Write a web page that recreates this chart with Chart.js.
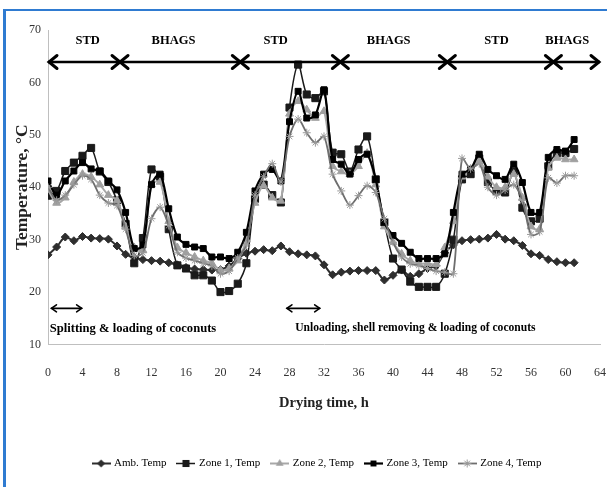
<!DOCTYPE html>
<html><head><meta charset="utf-8">
<script src="https://cdn.jsdelivr.net/npm/chart.js@4.4.1/dist/chart.umd.min.js"></script>
<style>
html,body{margin:0;padding:0;background:#fff;}
#wrap{position:relative;width:607px;height:487px;overflow:hidden;background:#fff;}
#bt{position:absolute;left:3px;top:9px;width:604px;height:2px;background:#2f7bd1;}
#bl{position:absolute;left:3px;top:9px;width:3px;height:478px;background:#2f7bd1;}
canvas{position:absolute;left:0;top:0;}
</style></head><body>
<div id="wrap"><div id="bt"></div><div id="bl"></div><canvas id="c" width="607" height="487"></canvas></div>
<script>
// ---- data ----
const hours = [0,1,2,3,4,5,6,7,8,9,10,11,12,13,14,15,16,17,18,19,20,21,22,23,24,25,26,27,28,29,30,31,32,33,34,35,36,37,38,39,40,41,42,43,44,45,46,47,48,49,50,51,52,53,54,55,56,57,58,59,60,61];
const ambTemp = [27.1,28.6,30.5,29.8,30.6,30.3,30.2,30.1,28.8,27.2,26.6,26.2,26.0,25.9,25.6,25.2,24.7,24.4,24.3,24.2,24.3,25.0,26.4,27.4,27.8,28.1,27.9,28.8,27.7,27.3,27.1,26.9,25.2,23.3,23.8,24.0,24.1,24.1,24.1,22.3,23.2,24.2,23.0,23.5,24.5,25.0,27.5,29.0,29.8,30.0,30.1,30.3,31.0,30.1,29.8,28.9,27.3,27.0,26.2,25.8,25.6,25.6];
const zone1Temp = [38.4,39.3,43.1,44.7,46.0,47.5,43.0,41.0,37.5,33.0,25.5,30.3,43.4,42.0,32.0,25.1,24.5,23.2,23.2,22.2,20.0,20.2,21.6,25.5,37.8,40.5,38.5,37.1,55.2,63.4,57.7,57.0,58.3,46.6,46.3,43.0,47.2,49.7,41.5,33.3,26.4,24.3,22.0,21.0,21.0,21.0,23.5,30.0,41.5,42.5,45.5,41.0,39.3,39.0,43.0,36.1,33.5,34.0,44.0,46.5,46.5,47.3];
const zone2Temp = [39.5,37.0,38.0,41.0,42.5,42.0,40.5,38.5,37.5,32.5,28.5,28.0,40.5,41.0,33.5,28.5,27.5,26.7,26.0,25.5,24.2,24.5,26.0,30.0,37.0,40.3,38.0,37.4,54.0,56.4,54.8,53.2,54.5,44.0,43.0,42.5,44.0,46.5,40.5,32.5,29.5,27.3,26.0,25.4,25.5,25.3,28.5,33.5,42.0,43.5,45.0,42.0,40.0,40.0,42.5,38.0,32.5,32.0,43.7,45.6,45.3,45.3];
const zone3Temp = [41.2,38.5,41.2,43.1,44.7,43.5,43.1,41.2,39.5,35.2,28.3,29.0,40.5,42.5,35.9,30.5,29.1,28.6,28.3,26.7,26.7,26.4,27.6,31.4,39.3,42.5,43.4,41.2,52.5,58.3,53.2,53.8,58.6,45.3,44.4,42.5,45.3,46.3,41.5,33.3,30.8,29.3,27.6,26.4,26.4,26.4,27.3,35.2,42.5,43.4,46.3,43.4,42.2,41.5,44.4,40.9,35.2,35.2,45.7,47.2,46.9,49.1];
const zone4Temp = [40.0,37.5,38.5,40.5,42.2,41.5,38.5,37.0,36.5,32.0,27.0,27.5,34.0,36.2,32.7,27.6,26.5,26.0,25.5,25.0,23.5,24.0,26.5,29.0,38.5,42.0,44.5,41.0,49.7,53.0,50.4,48.5,49.7,42.5,39.3,36.6,38.4,40.3,39.0,34.0,29.5,26.7,25.4,25.1,24.5,24.0,23.8,23.5,45.5,43.5,44.5,40.0,38.5,39.5,40.5,37.5,31.0,31.5,41.8,40.8,42.2,42.2];
const seriesNames = ['Amb. Temp','Zone 1, Temp','Zone 2, Temp','Zone 3, Temp','Zone 4, Temp'];
const xTickLabels = [0,4,8,12,16,20,24,28,32,36,40,44,48,52,56,60,64];
const yTickLabels = [10,20,30,40,50,60,70];
const phaseBounds = [8.35,22.3,33.9,46.3,58.6];
const phaseNames = ['STD','BHAGS','STD','BHAGS','STD','BHAGS'];
const operationNotes = ['Splitting & loading of coconuts','Unloading, shell removing & loading of coconuts'];

// ---- annotation layout (data units) ----
const annot = {
  arrowY: 63.9, labelY: 68.0, phaseLabelX: [4.6,14.55,26.4,39.5,52.0,60.2],
  startX: 0, endX: 64,
  noteArrows: [[0.4,3.9],[27.7,31.5]], noteArrowY: 16.9,
  noteTextX: [0.2,42.6], noteAlign: ['left','center'], noteTextY: 13.1, noteFont: [12.6, 11.6]
};

const SERIF = "'Liberation Serif','Times New Roman',serif";
const styles = [
  {line:'#2e2e2e', w:2, ps:'rectRot', r:4, fill:'#2e2e2e', pb:'#2e2e2e'},
  {line:'#1a1a1a', w:1.5, ps:'rect', r:5, fill:'#1a1a1a', pb:'#1a1a1a'},
  {line:'#a8a8a8', w:2, ps:'triangle', r:4.5, fill:'#a0a0a0', pb:'#a0a0a0'},
  {line:'#000000', w:2.2, ps:'rect', r:4.2, fill:'#000000', pb:'#000000'},
  {line:'#6e6e6e', w:1.8, ps:'star', r:4, fill:'#9a9a9a', pb:'#9a9a9a'}
];
const allSeries = [ambTemp, zone1Temp, zone2Temp, zone3Temp, zone4Temp];

function legendSymbol(st){
  const c = document.createElement('canvas'); c.width = 19; c.height = 11;
  const g = c.getContext('2d');
  g.strokeStyle = st.line; g.lineWidth = st.w; g.beginPath(); g.moveTo(0,5.5); g.lineTo(19,5.5); g.stroke();
  const cx = 9.5, cy = 5.5, r = st.r;
  g.fillStyle = st.fill; g.strokeStyle = st.pb; g.lineWidth = 1;
  g.beginPath();
  if (st.ps === 'rect'){ const s = r*Math.SQRT1_2; g.rect(cx-s,cy-s,2*s,2*s); g.fill(); }
  else if (st.ps === 'rectRot'){ g.moveTo(cx,cy-r); g.lineTo(cx+r,cy); g.lineTo(cx,cy+r); g.lineTo(cx-r,cy); g.closePath(); g.fill(); }
  else if (st.ps === 'triangle'){ g.moveTo(cx,cy-r); g.lineTo(cx+r*0.87,cy+r*0.5); g.lineTo(cx-r*0.87,cy+r*0.5); g.closePath(); g.fill(); }
  else if (st.ps === 'star'){ for (let k=0;k<4;k++){ const a=k*Math.PI/4; g.moveTo(cx-r*Math.cos(a),cy-r*Math.sin(a)); g.lineTo(cx+r*Math.cos(a),cy+r*Math.sin(a)); } g.stroke(); }
  return c;
}

const datasets = allSeries.map((vals,i)=>({
  label: seriesNames[i],
  data: hours.map((h,k)=>({x:h, y:vals[k]})),
  borderColor: styles[i].line, borderWidth: styles[i].w,
  backgroundColor: styles[i].fill,
  pointStyle: styles[i].ps, pointRadius: styles[i].r,
  pointBackgroundColor: styles[i].fill, pointBorderColor: styles[i].pb, pointBorderWidth: 1,
  tension: 0.3, fill: false, order: 4 - i
}));

const phasePlugin = {
  id: 'phases',
  afterLayout(chart){ if (chart.legend) chart.legend.left += 22; },
  afterDraw(chart){
    const ctx = chart.ctx, xs = chart.scales.x, ys = chart.scales.y;
    const X = v => xs.getPixelForValue(v), Y = v => ys.getPixelForValue(v);
    ctx.save();
    ctx.strokeStyle = '#000'; ctx.fillStyle = '#000';
    const ay = Y(annot.arrowY);
    ctx.lineWidth = 2.5; ctx.lineCap = 'butt';
    ctx.beginPath(); ctx.moveTo(X(annot.startX), ay); ctx.lineTo(X(annot.endX), ay); ctx.stroke();
    const head = (x, dir, len, hh, lw) => {
      ctx.lineWidth = lw; ctx.lineJoin = 'miter'; ctx.lineCap = 'round';
      ctx.beginPath(); ctx.moveTo(x - dir*len, ay - hh); ctx.lineTo(x, ay); ctx.lineTo(x - dir*len, ay + hh); ctx.stroke();
    };
    head(X(annot.startX)+1, -1, 8, 6.5, 3);
    head(X(annot.endX)-1, 1, 8, 6.5, 3);
    phaseBounds.forEach(b => { const px = X(b); head(px, 1, 8, 6.5, 3); head(px, -1, 8, 6.5, 3); });
    ctx.font = 'bold 12.5px ' + SERIF; ctx.textAlign = 'center'; ctx.textBaseline = 'middle';
    phaseNames.forEach((n,i) => ctx.fillText(n, X(annot.phaseLabelX[i]), Y(annot.labelY)));
    const ny = Y(annot.noteArrowY);
    annot.noteArrows.forEach(([a,b]) => {
      const x1 = X(a), x2 = X(b);
      ctx.lineWidth = 1.6; ctx.lineCap = 'round';
      ctx.beginPath(); ctx.moveTo(x1, ny); ctx.lineTo(x2, ny); ctx.stroke();
      ctx.beginPath(); ctx.moveTo(x1+5, ny-3.5); ctx.lineTo(x1, ny); ctx.lineTo(x1+5, ny+3.5); ctx.stroke();
      ctx.beginPath(); ctx.moveTo(x2-5, ny-3.5); ctx.lineTo(x2, ny); ctx.lineTo(x2-5, ny+3.5); ctx.stroke();
    });
    operationNotes.forEach((t,i) => {
      ctx.font = 'bold ' + annot.noteFont[i] + 'px ' + SERIF;
      ctx.textAlign = annot.noteAlign[i]; ctx.fillText(t, X(annot.noteTextX[i]), Y(annot.noteTextY));
    });
    ctx.restore();
  }
};

new Chart(document.getElementById('c'), {
  type: 'line',
  data: { datasets },
  options: {
    responsive: false, animation: false, devicePixelRatio: 1,
    layout: { padding: { left: 13, right: 7, top: 30, bottom: 8 } },
    scales: {
      x: {
        type: 'linear', min: 0, max: 64,
        afterBuildTicks: s => { s.ticks = xTickLabels.map(v => ({value: v})); },
        afterFit: s => { s.height = 101.5; s.paddingLeft = 0; s.paddingRight = 0; },
        ticks: { font: { family: SERIF, size: 12 }, color: '#333', padding: 21, maxRotation: 0, autoSkip: false },
        grid: { display: false, drawTicks: false },
        border: { display: true, color: '#bfbfbf', width: 1 },
        title: { display: true, text: 'Drying time, h', font: { family: SERIF, size: 14.5, weight: 'bold' }, color: '#222', padding: { top: 4, bottom: 34 } }
      },
      y: {
        min: 10, max: 70,
        afterBuildTicks: s => { s.ticks = yTickLabels.map(v => ({value: v})); },
        afterFit: s => { s.width = 35; },
        ticks: { font: { family: SERIF, size: 12 }, color: '#333', padding: 7 },
        grid: { display: false, drawTicks: false },
        border: { display: true, color: '#bfbfbf', width: 1 },
        title: { display: true, text: 'Temperature, °C', font: { family: SERIF, size: 17.5, weight: 'bold' }, color: '#222', padding: { top: -1.5, bottom: 0 } }
      }
    },
    plugins: {
      tooltip: { enabled: false },
      legend: {
        position: 'bottom',
        labels: {
          usePointStyle: true, pointStyleWidth: 15, boxHeight: 11, padding: 12,
          font: { family: SERIF, size: 11 }, color: '#222',
          generateLabels: chart => chart.data.datasets.map((d,i) => ({
            text: d.label, pointStyle: legendSymbol(styles[i]), datasetIndex: i,
            fillStyle: d.backgroundColor, strokeStyle: d.borderColor, lineWidth: 0, hidden: false
          }))
        }
      }
    }
  },
  plugins: [phasePlugin]
});
</script>
</body></html>
